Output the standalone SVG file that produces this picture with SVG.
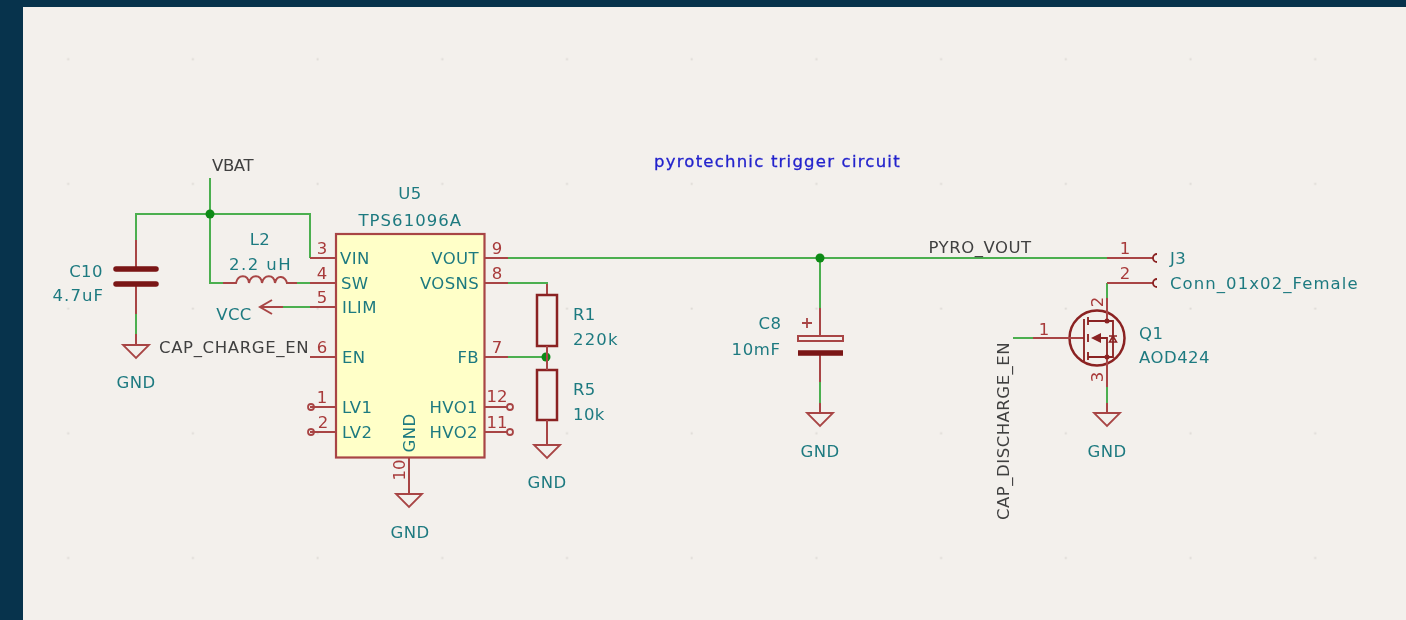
<svg xmlns="http://www.w3.org/2000/svg" width="1406" height="620" viewBox="0 0 1406 620">
<style>
text{font-family:"DejaVu Sans","Liberation Sans",sans-serif;font-size:16.5px;letter-spacing:0.4px}
.t{fill:#1f7a80;text-anchor:middle}
.l{fill:#1f7a80;text-anchor:start}
.r{fill:#1f7a80;text-anchor:end}
.n{fill:#a83a3a;text-anchor:middle;letter-spacing:0}
.b{fill:#3f3f3f;text-anchor:middle}
.w{fill:none;stroke:#4caf50;stroke-width:2}
.p{fill:none;stroke:#a84444;stroke-width:2}
.s{fill:none;stroke:#8a2020;stroke-width:2.5}
.d{fill:#0e8a16}
</style>
<defs>
<path id="gnd" d="M-13 0H13L0 13Z" fill="none" stroke="#a84444" stroke-width="1.8"/>
<pattern id="grid" x="5.700" y="-3.300" width="124.700" height="124.700" patternUnits="userSpaceOnUse"><rect x="61.500" y="61.500" width="2" height="2" fill="#dedbd6"/></pattern>
<filter id="soft" x="0" y="0" width="1" height="1"><feGaussianBlur stdDeviation="0.5"/></filter>
</defs>
<rect width="1406" height="620" fill="#07334c"/>
<rect x="23" y="7" width="1383" height="613" fill="#f3f0ec"/>
<rect x="23" y="7" width="1383" height="613" fill="url(#grid)"/>
<g filter="url(#soft)">
<g id="connectors">
<path class="w" d="M210 178V214M136 240V214H310V258"/>
<path class="w" d="M210 214V283H224M286 283H310"/>
<path class="w" d="M283 307H310"/>
<path class="w" d="M136 314V334"/>
<path class="w" d="M508 258H1107"/>
<path class="w" d="M508 283H547V296"/>
<path class="w" d="M508 357H547"/>
<path class="w" d="M820 258V308M820 382V403"/>
<path class="w" d="M1107 283V298M1107 387V403"/>
<path class="w" d="M1013 338H1033"/>
<circle class="d" cx="210" cy="214" r="4.500"/>
<circle class="d" cx="546" cy="357" r="4.500"/>
<circle class="d" cx="820" cy="258" r="4.500"/>
</g>
<g id="U5">
<rect x="336" y="234" width="148.500" height="223.500" fill="#ffffc8" stroke="#a84444" stroke-width="2.200"/>
<path class="p" d="M310 258H336M310 283H336M310 307H336M310 357H336M310 407H336M310 432H336M485 258H508M485 283H508M485 357H508M485 407H508M485 432H508M409 458V494"/>
<g fill="none" stroke="#a84444" stroke-width="1.800"><circle cx="311" cy="407" r="3"/><circle cx="311" cy="432" r="3"/><circle cx="510" cy="407" r="3"/><circle cx="510" cy="432" r="3"/></g>
<use href="#gnd" x="409" y="494"/>
<text class="t" x="410" y="199">U5</text>
<text class="t" x="410" y="226" textLength="103">TPS61096A</text>
<text class="l" x="340" y="264">VIN</text>
<text class="l" x="341" y="289">SW</text>
<text class="l" x="342" y="313">ILIM</text>
<text class="l" x="342" y="363">EN</text>
<text class="l" x="342" y="413">LV1</text>
<text class="l" x="342" y="438">LV2</text>
<text class="r" x="479" y="264">VOUT</text>
<text class="r" x="479" y="289" textLength="59">VOSNS</text>
<text class="r" x="479" y="363">FB</text>
<text class="r" x="478" y="413">HVO1</text>
<text class="r" x="478" y="438">HVO2</text>
<text class="t" transform="translate(415 433) rotate(-90)">GND</text>
<text class="n" x="322" y="254">3</text>
<text class="n" x="322" y="279">4</text>
<text class="n" x="322" y="303">5</text>
<text class="n" x="322" y="353">6</text>
<text class="n" x="322" y="403">1</text>
<text class="n" x="323" y="428">2</text>
<text class="n" x="497" y="254">9</text>
<text class="n" x="497" y="279">8</text>
<text class="n" x="497" y="353">7</text>
<text class="n" x="497" y="402">12</text>
<text class="n" x="497" y="428">11</text>
<text class="n" transform="translate(405 470) rotate(-90)">10</text>
<text class="t" x="410" y="538">GND</text>
</g>
<g id="VBAT"><text class="b" x="233" y="171" textLength="42">VBAT</text></g>
<g id="C10">
<path class="p" d="M136 240V268M136 285V314M136 334V345"/>
<path d="M116 269H156M116 284H156" fill="none" stroke="#7a1414" stroke-width="5.500" stroke-linecap="round"/>
<use href="#gnd" x="136" y="345"/>
<text class="t" x="86" y="277">C10</text>
<text class="t" x="78" y="301" textLength="51">4.7uF</text>
<text class="t" x="136" y="388">GND</text>
</g>
<g id="L2">
<path class="p" d="M223 283H236C238 274 248 274 249 283C251 274 261 274 262 283C264 274 274 274 275 283C277 274 285 276 287 283H297"/>
<text class="t" x="260" y="245">L2</text>
<text class="t" x="260" y="270" textLength="62">2.2 uH</text>
</g>
<g id="VCC">
<path class="p" d="M260 307H283M272 300L260 307L272 314"/>
<text class="t" x="234" y="320">VCC</text>
</g>
<g id="CAP_CHARGE_EN"><text class="b" x="234" y="353" textLength="150">CAP_CHARGE_EN</text></g>
<g id="R1">
<path class="p" d="M547 284V295"/>
<rect x="537" y="295" width="20" height="51" class="s"/>
<text class="l" x="573" y="320">R1</text>
<text class="l" x="573" y="345" textLength="45">220k</text>
</g>
<g id="R5">
<rect x="537" y="370" width="20" height="50" class="s"/>
<path class="p" d="M547 346V370M547 420V445"/>
<use href="#gnd" x="547" y="445"/>
<text class="l" x="573" y="395">R5</text>
<text class="l" x="573" y="420">10k</text>
<text class="t" x="547" y="488">GND</text>
</g>
<g id="C8">
<path class="p" d="M820 308V336M820 354V382M820 403V413"/>
<rect x="798" y="336" width="45" height="5" fill="none" stroke="#a84444" stroke-width="2"/>
<path d="M798 353H843" stroke="#7a1414" stroke-width="5.500" fill="none"/>
<path d="M802 323H812M807 318V328" stroke="#a84444" stroke-width="1.800" fill="none"/>
<use href="#gnd" x="820" y="413"/>
<text class="t" x="770" y="329">C8</text>
<text class="t" x="756" y="355" textLength="49">10mF</text>
<text class="t" x="820" y="457">GND</text>
</g>
<g id="PYRO_VOUT"><text class="b" x="980" y="253" textLength="103">PYRO_VOUT</text></g>
<g id="J3">
<path class="p" d="M1107 258H1153M1107 283H1153"/>
<path d="M1157 254A4 4 0 0 0 1157 262M1157 279A4 4 0 0 0 1157 287" fill="none" stroke="#8a2020" stroke-width="1.800"/>
<text class="n" x="1125" y="254">1</text>
<text class="n" x="1125" y="279">2</text>
<text class="l" x="1170" y="264">J3</text>
<text class="l" x="1170" y="289" textLength="188">Conn_01x02_Female</text>
</g>
<g id="Q1">
<circle cx="1097" cy="338" r="27.500" fill="none" stroke="#8a2020" stroke-width="2.500"/>
<path class="p" d="M1033 338H1084M1107 298V321M1107 357V387M1107 403V413"/>
<path d="M1084 319V361M1088 317V325M1088 334V342M1088 352V360M1088 321H1107M1088 357H1107M1095 338H1107V357M1107 321H1113V357H1107" fill="none" stroke="#8a2020" stroke-width="1.800"/>
<path d="M1091 338L1101 333V343Z" fill="#8a2020"/>
<circle cx="1107" cy="321" r="2.500" fill="#8a2020"/><circle cx="1107" cy="357" r="2.500" fill="#8a2020"/>
<path d="M1109 336H1117M1113 336L1109.500 342H1116.500Z" fill="none" stroke="#8a2020" stroke-width="1.500"/>
<use href="#gnd" x="1107" y="413"/>
<text class="n" x="1044" y="335">1</text>
<text class="n" transform="translate(1103 302) rotate(-90)">2</text>
<text class="n" transform="translate(1103 377) rotate(-90)">3</text>
<text class="l" x="1139" y="339">Q1</text>
<text class="l" x="1139" y="363" textLength="71">AOD424</text>
<text class="t" x="1107" y="457">GND</text>
</g>
<g id="CAP_DISCHARGE_EN"><text class="b" transform="translate(1009 431) rotate(-90)" textLength="178">CAP_DISCHARGE_EN</text></g>
<g id="title"><text x="777" y="167" fill="#2222cc" stroke="#2222cc" stroke-width="0.300" text-anchor="middle" textLength="246">pyrotechnic trigger circuit</text></g>
</g>
</svg>
